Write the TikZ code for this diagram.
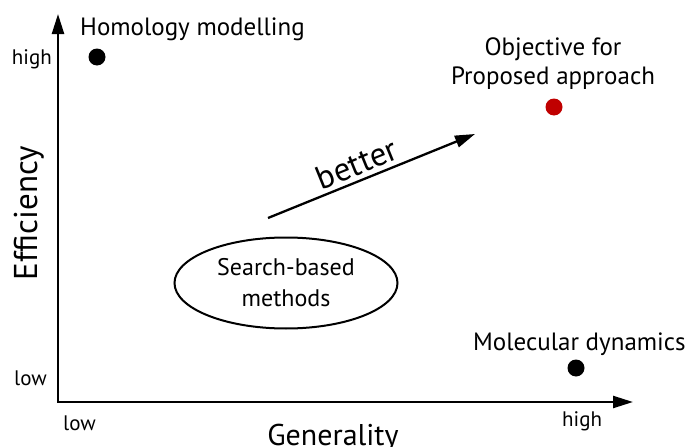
\documentclass[tikz,border=0pt]{standalone}
\usepackage{fontspec}
\setmainfont{PT Sans}
\usepackage{xcolor}
\usetikzlibrary{arrows.meta,shapes.geometric}
\definecolor{objred}{RGB}{192,0,0}

\begin{document}
\begin{tikzpicture}[x=1pt,y=-1pt,
    tick/.style={font=\fontsize{21}{25}\selectfont, inner sep=0pt},
    lbl/.style={font=\fontsize{25}{29}\selectfont, inner sep=0pt},
    dot/.style={circle, fill=#1, minimum size=17pt, inner sep=0pt},
    axis/.style={line width=2.3pt,
        {Triangle[length=20pt,width=12pt]}-{Triangle[length=20pt,width=12pt]}},
    better/.style={line width=2.3pt, -{Triangle[length=20pt,width=12pt]}}]
    \useasboundingbox (0,0) rectangle (689,447);

    % axes
    \coordinate (ytop) at (58,14);
    \coordinate (O) at (58,402);
    \coordinate (xend) at (633,402);
    \draw[axis] (ytop) -- (O) -- (xend);

    \node[tick, anchor=base east] (yhigh) at (52,64) {high};
    \node[tick, anchor=base east] (ylow) at (47,385) {low};
    \node[tick, anchor=base west] (xlow) at (63,430) {low};
    \node[tick, anchor=base west] (xhigh) at (562,426) {high};
    \node[font=\fontsize{33}{37}\selectfont, inner sep=0pt, rotate=90,
        anchor=base] (eff) at (37,213) {Efficiency};
    \node[font=\fontsize{30}{34}\selectfont, inner sep=0pt,
        anchor=base] (gen) at (333,445) {Generality};

    % methods
    \node[lbl, anchor=base west] (homlbl) at (80,35) {Homology modelling};
    \node[dot=black] (hom) at (97,57) {};
    \node[lbl, align=center] (objlbl) at (553,64) {Objective for\\Proposed approach};
    \node[dot=objred] (obj) at (554,107) {};
    \node[lbl, anchor=base west] (mollbl) at (473,350) {Molecular dynamics};
    \node[dot=black] (mol) at (576,368) {};
    \node[draw, ellipse, line width=2pt, align=center, inner sep=0pt,
        font=\fontsize{24}{31}\selectfont,
        minimum width=223pt, minimum height=91pt] (sb) at (286,283) {Search-based\\methods};

    \coordinate (b0) at (268,218);
    \coordinate (b1) at (475,134);
    \draw[better] (b0) -- node[sloped, above=4pt, pos=0.46,
        font=\fontsize{33}{37}\selectfont, inner sep=0pt] (btxt) {better} (b1);
\end{tikzpicture}
\end{document}
